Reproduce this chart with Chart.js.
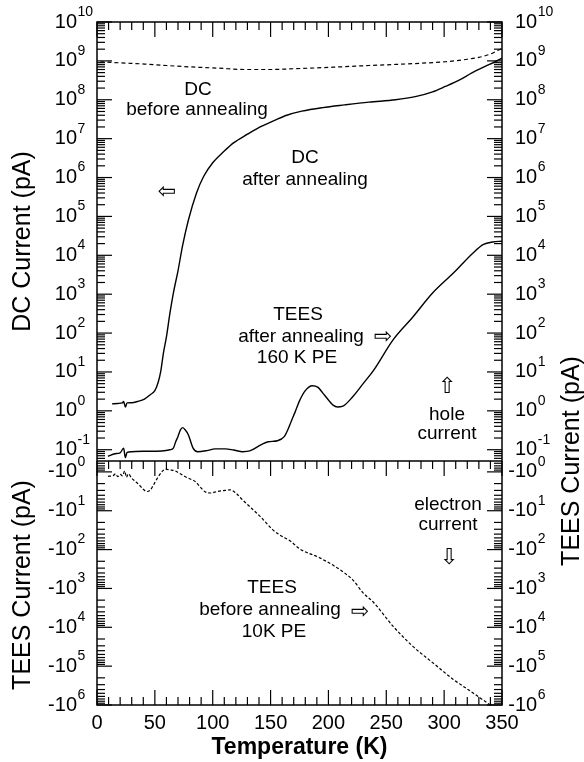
<!DOCTYPE html>
<html>
<head>
<meta charset="utf-8">
<script src="https://cdn.jsdelivr.net/npm/chart.js@4.4.1/dist/chart.umd.min.js"></script>
<style>
  body { margin: 0; background: #fff; }
  canvas { display: block; }
</style>
</head>
<body>
<canvas id="myChart" width="584" height="762"></canvas>
<script>
const FONT = '"Liberation Sans", Arial, Helvetica, sans-serif';
const ARROW_FONT = '"DejaVu Sans", sans-serif';

// axis ticks
const xTicks = [0, 50, 100, 150, 200, 250, 300, 350];
const topExps = [-1, 0, 1, 2, 3, 4, 5, 6, 7, 8, 9, 10];   // DC / TEES hole current, 10^n
const botExps = [0, 1, 2, 3, 4, 5, 6];                    // TEES electron current, -10^n

// DC before annealing (pA)
const dcBeforeT = [3, 20, 41, 60, 85, 105, 128, 150, 171, 190, 214, 235, 258, 280, 301, 320, 330, 340, 350];
const dcBefore  = [9.5e8, 8.9e8, 8.3e8, 7.6e8, 6.9e8, 6.5e8, 6.0e8, 6.0e8, 6.3e8, 6.6e8, 7.1e8, 7.6e8, 8.1e8, 8.7e8, 9.5e8, 1.1e9, 1.23e9, 1.5e9, 2.1e9];

// DC after annealing (pA)
const dcAfterT = [13, 18, 22, 23, 24.5, 26, 30, 35, 41, 46, 50, 53, 55, 57.5, 60, 63, 66, 70, 74, 79, 86, 92, 100, 110, 118, 130, 141, 154, 164, 177, 195, 214, 235, 258, 275, 290, 301, 313, 324, 335, 344, 350];
const dcAfter  = [1.51, 1.55, 1.6, 1.75, 1.25, 1.6, 1.62, 1.74, 2.0, 2.6, 3.3, 5.6, 10, 32, 80, 320, 1.07e3, 4.0e3, 1.8e4, 8.1e4, 4.0e5, 1.05e6, 2.4e6, 4.8e6, 7.8e6, 1.3e7, 2.0e7, 3.0e7, 4.0e7, 5.1e7, 6.3e7, 7.4e7, 8.7e7, 1.0e8, 1.2e8, 1.6e8, 2.2e8, 3.2e8, 4.9e8, 7.1e8, 9.5e8, 1.17e9];

// TEES after annealing, 160 K PE (pA, hole current)
const teesAfterT = [9.5, 15.5, 20, 23, 24.5, 26, 30, 40, 56, 63, 66, 68, 70, 72, 74, 76, 79, 81, 83, 87, 95, 102, 111, 118, 126, 132, 142, 148, 156, 162, 165, 168, 171, 175, 180, 186, 191, 195, 200, 204, 208, 212, 221, 230, 239, 256, 273, 290, 308, 325, 334, 342, 350];
const teesAfter  = [0.068, 0.079, 0.083, 0.11, 0.063, 0.085, 0.089, 0.091, 0.093, 0.1, 0.11, 0.16, 0.22, 0.32, 0.37, 0.33, 0.24, 0.16, 0.11, 0.089, 0.095, 0.105, 0.105, 0.098, 0.089, 0.093, 0.135, 0.16, 0.17, 0.22, 0.33, 0.55, 0.9, 1.8, 3.3, 4.4, 4.0, 2.9, 1.9, 1.4, 1.26, 1.3, 2.3, 5.0, 11, 68, 260, 1.07e3, 3.5e3, 1.15e4, 1.9e4, 2.2e4, 2.3e4];

// TEES before annealing, 10 K PE (pA, electron current)
const teesBeforeT = [9.5, 14, 16, 18, 20, 22, 24, 25.5, 27, 30, 33, 36, 40, 43, 46, 48, 51, 54, 57, 59, 63, 67, 72, 76, 80, 85, 89, 93, 98, 104, 111, 115, 120, 125, 134, 141, 152, 158, 167, 175, 193, 210, 221, 230, 239, 256, 273, 290, 308, 325, 337, 345];
const teesBefore  = [-1.3, -1.25, -1.12, -1.32, -1.15, -1.26, -0.95, -1.38, -1.12, -1.45, -1.74, -2.1, -2.8, -3.2, -2.95, -2.4, -1.66, -1.2, -0.93, -0.85, -0.89, -0.93, -1.12, -1.32, -1.5, -1.78, -2.4, -3.2, -3.5, -3.2, -3.0, -2.9, -3.5, -5.0, -8.9, -14, -31, -42, -60, -95, -166, -330, -600, -1.3e3, -2.3e3, -9.5e3, -3.1e4, -8.1e4, -2.2e5, -4.9e5, -8.7e5, -1.26e6];

const pts = (ts, vs) => ts.map((t, i) => ({ x: t, y: Math.abs(vs[i]) }));

function drawPow(ctx, x, y, exp, neg, side) {
    ctx.font = '20px ' + FONT;
    ctx.textBaseline = 'middle';
    ctx.textAlign = 'left';
    const w = ctx.measureText('10').width;
    const x0 = side === 'left' ? x - w : x;
    ctx.fillText('10', x0, y);
    if (neg) ctx.fillText('-', x0 - ctx.measureText('-').width, y);
    ctx.font = '14px ' + FONT;
    ctx.fillText(String(exp), x0 + w + 0.5, y - 10);
}

function vText(ctx, text, x, y) {
    ctx.save();
    ctx.translate(x, y);
    ctx.rotate(-Math.PI / 2);
    ctx.textAlign = 'center';
    ctx.textBaseline = 'middle';
    ctx.fillText(text, 0, 0);
    ctx.restore();
}

function tick(ctx, x1, y1, x2, y2) {
    ctx.beginPath();
    ctx.moveTo(x1, y1);
    ctx.lineTo(x2, y2);
    ctx.stroke();
}

function logTicks(ctx, scale, L, R) {
    const e0 = Math.floor(Math.log10(scale.min)), e1 = Math.ceil(Math.log10(scale.max));
    for (let e = e0; e <= e1; e++) {
        for (let m = 1; m <= 9; m++) {
            const v = m * Math.pow(10, e);
            if (v < scale.min * 0.999 || v > scale.max * 1.001) continue;
            const py = scale.getPixelForValue(v);
            const len = m === 1 ? 15 : 8;
            tick(ctx, L, py, L + len, py);
            tick(ctx, R, py, R - len, py);
        }
    }
}

const notes = [
    ['DC', 198, 90], ['before annealing', 197, 110],
    ['DC', 305, 158], ['after annealing', 305, 180],
    ['TEES', 298, 315], ['after annealing', 301, 337], ['160 K PE', 297, 358],
    ['hole', 447, 415], ['current', 447, 434],
    ['electron', 448, 505], ['current', 448, 525],
    ['TEES', 272, 588], ['before annealing', 270, 610], ['10K PE', 274, 632]
];
const arrows = [['\u21E6', 167, 192], ['\u21E8', 383, 337], ['\u21E7', 447, 387], ['\u21E9', 449, 558], ['\u21E8', 360, 612]];

const frame = {
    id: 'frame',
    afterDraw(chart) {
        const { ctx, scales } = chart;
        const x = scales.x, yT = scales.yTop, yB = scales.yBot;
        const L = x.left, R = x.right, T = yT.top, M = yT.bottom, B = yB.bottom;
        ctx.save();
        ctx.setLineDash([]);
        ctx.strokeStyle = '#000';
        ctx.fillStyle = '#000';
        ctx.lineWidth = 1.5;
        ctx.strokeRect(L, T, R - L, B - T);
        tick(ctx, L, M, R, M);

        ctx.lineWidth = 1.2;
        for (let t = 0; t <= 350; t += 10) {
            const px = x.getPixelForValue(t);
            const len = t % 50 === 0 ? 15 : 8;
            tick(ctx, px, T, px, T + len);
            tick(ctx, px, M, px, M + len);
            tick(ctx, px, B, px, B - len);
        }
        logTicks(ctx, yT, L, R);
        logTicks(ctx, yB, L, R);

        // tick labels
        topExps.forEach(e => {
            const py = yT.getPixelForValue(Math.pow(10, e));
            drawPow(ctx, L - 20, py, e, false, 'left');
            drawPow(ctx, R + 13, py, e, false, 'right');
        });
        botExps.forEach(e => {
            const py = yB.getPixelForValue(Math.pow(10, e));
            drawPow(ctx, L - 20, py, e, true, 'left');
            drawPow(ctx, R + 13, py, e, true, 'right');
        });
        ctx.font = '20px ' + FONT;
        ctx.textAlign = 'center';
        ctx.textBaseline = 'middle';
        xTicks.forEach(t => ctx.fillText(String(t), x.getPixelForValue(t), 723));

        // axis titles
        ctx.font = 'bold 23px ' + FONT;
        ctx.fillText('Temperature (K)', (L + R) / 2, 748);
        ctx.font = '25px ' + FONT;
        vText(ctx, 'DC Current (pA)', 23, (T + M) / 2);
        vText(ctx, 'TEES Current (pA)', 23, (M + B) / 2 + 2);
        vText(ctx, 'TEES Current (pA)', 572, 461);

        // annotations
        ctx.font = '19px ' + FONT;
        notes.forEach(([s, nx, ny]) => ctx.fillText(s, nx, ny));
        ctx.font = '22px ' + ARROW_FONT;
        arrows.forEach(([s, nx, ny]) => ctx.fillText(s, nx, ny));
        ctx.restore();
    }
};

const ctx = document.getElementById('myChart').getContext('2d');
new Chart(ctx, {
    type: 'line',
    plugins: [frame],
    data: {
        datasets: [
            { data: pts(dcBeforeT, dcBefore), yAxisID: 'yTop', borderColor: '#000', borderDash: [4, 3], borderWidth: 1.2 },
            { data: pts(dcAfterT, dcAfter), yAxisID: 'yTop', borderColor: '#000', borderWidth: 1.4 },
            { data: pts(teesAfterT, teesAfter), yAxisID: 'yTop', borderColor: '#000', borderWidth: 1.4 },
            { data: pts(teesBeforeT, teesBefore), yAxisID: 'yBot', borderColor: '#000', borderDash: [3, 2], borderWidth: 1.2 }
        ]
    },
    options: {
        responsive: false,
        animation: false,
        devicePixelRatio: 1,
        layout: { padding: { top: 22, left: 0, right: 0, bottom: 0 } },
        datasets: {
            line: { pointRadius: 0, fill: false, cubicInterpolationMode: 'monotone' }
        },
        plugins: { legend: { display: false }, tooltip: { enabled: false } },
        scales: {
            x: {
                type: 'linear', position: 'bottom', min: 0, max: 350,
                grid: { display: false }, border: { display: false }, ticks: { display: false },
                afterFit: s => { s.height = 57; }
            },
            yTop: {
                type: 'logarithmic', position: 'left', stack: 'left', stackWeight: 439, weight: 1,
                min: Math.pow(10, -1.29), max: 1e10,
                grid: { display: false }, border: { display: false }, ticks: { display: false },
                afterFit: s => { s.width = 97; }
            },
            yBot: {
                type: 'logarithmic', position: 'left', stack: 'left', stackWeight: 244, weight: 0, reverse: true,
                min: Math.pow(10, -0.28), max: 1e6,
                grid: { display: false }, border: { display: false }, ticks: { display: false },
                afterFit: s => { s.width = 97; }
            },
            yTopR: {
                type: 'logarithmic', position: 'right', stack: 'right', stackWeight: 439, weight: 0,
                min: Math.pow(10, -1.29), max: 1e10,
                grid: { display: false }, border: { display: false }, ticks: { display: false },
                afterFit: s => { s.width = 82; }
            },
            yBotR: {
                type: 'logarithmic', position: 'right', stack: 'right', stackWeight: 244, weight: 1, reverse: true,
                min: Math.pow(10, -0.28), max: 1e6,
                grid: { display: false }, border: { display: false }, ticks: { display: false },
                afterFit: s => { s.width = 82; }
            }
        }
    }
});
</script>
</body>
</html>
